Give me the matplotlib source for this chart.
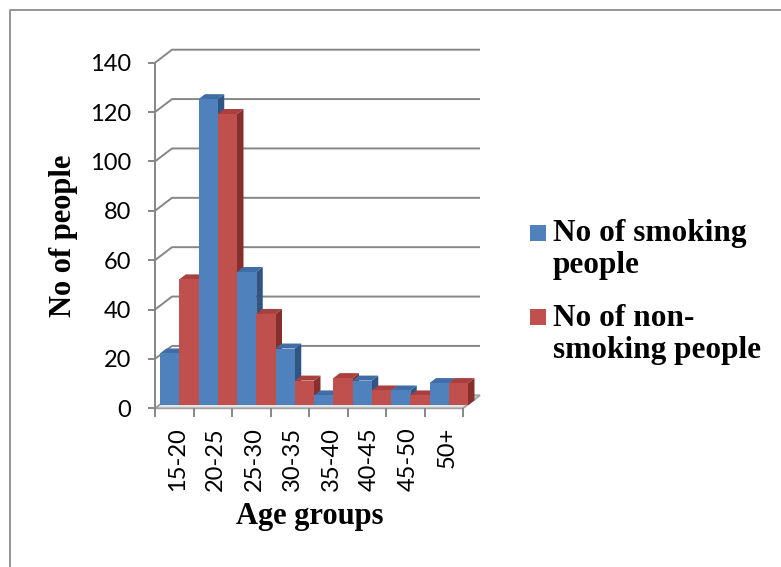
import matplotlib
matplotlib.use("Agg")
import matplotlib.pyplot as plt
from matplotlib.patches import Polygon, Rectangle
from matplotlib.lines import Line2D
import matplotlib.transforms as mtransforms

# ---- data ----
categories = ["15-20", "20-25", "25-30", "30-35", "35-40", "40-45", "45-50", "50+"]
smoking = [21, 124, 54, 23, 4, 10, 6, 9]
non_smoking = [51, 118, 37, 10, 11, 6, 4, 9]
series_names = ["No of smoking\npeople", "No of non-\nsmoking people"]
y_ticks = [0, 20, 40, 60, 80, 100, 120, 140]

W, H = 781, 567
fig = plt.figure(figsize=(W / 100, H / 100), dpi=100)
fig.patch.set_facecolor("white")

def fx(x):
    return x / W

def fy(y):
    return 1 - y / H

# plot area (front plane) in pixels
L, R, B, T = 155, 463, 408.3, 62.7
ax = fig.add_axes([fx(L), fy(B), (R - L) / W, (B - T) / H])
ax.set_xlim(0, len(categories))
ax.set_ylim(0, 140)
ax.patch.set_alpha(0)

ppx = (R - L) / len(categories)   # px per category
ppy = (B - T) / 140.0             # px per unit

# 3D offsets (px -> data)
wall_dx, wall_dy = 17 / ppx, 13 / ppy
shift_dx, shift_dy = 5 / ppx, 3 / ppy
depth_dx, depth_dy = 6.5 / ppx, 5 / ppy

grid_c = "#868686"

# floor
floor = Polygon([(0, 0), (8, 0), (8 + wall_dx, wall_dy), (wall_dx, wall_dy)],
                closed=True, facecolor="#e4e4e4", edgecolor="#a0a0a0", lw=1.3,
                zorder=1, clip_on=False)
ax.add_patch(floor)

# back wall gridlines
for v in y_ticks[1:]:
    ax.plot([0, wall_dx, 8 + wall_dx], [v, v + wall_dy, v + wall_dy],
            color=grid_c, lw=1.4, clip_on=False, zorder=0.5,
            solid_capstyle="butt")

# bars
bw = 0.5
colors = [("#4F81BD", "#3F6DA8", "#2F5584"), ("#C0504D", "#A8403D", "#86302E")]
order = []
for i in range(len(categories)):
    order.append((i + shift_dx, smoking[i], 0))
    order.append((i + bw + shift_dx, non_smoking[i], 1))

z = 2
for x0, v, s in order:
    front_c, top_c, side_c = colors[s]
    x1 = x0 + bw
    b = shift_dy
    t = shift_dy + v
    side = Polygon([(x1, b), (x1 + depth_dx, b + depth_dy),
                    (x1 + depth_dx, t + depth_dy), (x1, t)],
                   closed=True, facecolor=side_c, edgecolor="none",
                   zorder=z, clip_on=False)
    top = Polygon([(x0, t), (x1, t), (x1 + depth_dx, t + depth_dy),
                   (x0 + depth_dx, t + depth_dy)],
                  closed=True, facecolor=top_c, edgecolor="none",
                  zorder=z + 0.1, clip_on=False)
    ax.add_patch(side)
    ax.add_patch(top)
    ax.bar([x0], [v], width=bw, bottom=b, align="edge", color=front_c,
           edgecolor="none", zorder=z + 0.2, clip_on=False)
    z += 1

# spines / ticks
for sp in ["top", "right", "bottom"]:
    ax.spines[sp].set_visible(False)
ax.spines["left"].set_color(grid_c)
ax.spines["left"].set_linewidth(1.4)

tick_font = dict(family="Lato", size=17)
ax.set_yticks(y_ticks)
ax.set_yticklabels([str(v) for v in y_ticks], **tick_font)
ax.tick_params(axis="y", direction="out", length=5, width=1.4, color=grid_c,
               pad=12, labelcolor="black")

ax.set_xticks([i + 0.5 for i in range(len(categories))])
ax.set_xticklabels(categories, rotation=90, **tick_font)
ax.set_xticks(range(len(categories) + 1), minor=True)
ax.tick_params(axis="x", which="major", length=0, pad=13.5)
ax.tick_params(axis="x", which="minor", direction="out", length=6.5,
               width=1.4, color=grid_c)
off = mtransforms.ScaledTranslation(3 / 100, 0, fig.dpi_scale_trans)
for lab in ax.get_xticklabels():
    lab.set_transform(lab.get_transform() + off)

lab_font = dict(family="Liberation Serif", weight="bold", size=22)
fig.text(fx(64), fy(236), "No of people", rotation=90, ha="center",
         va="center", **lab_font)
fig.text(fx(310), fy(524), "Age groups", ha="center", va="baseline",
         **lab_font)

# legend
leg_font = dict(family="Liberation Serif", weight="bold", size=22.5)
sq = 16
for (y_sq, lines, base_y), (fc, _, _) in zip(
        [(225, series_names[0].split("\n"), 241),
         (309, series_names[1].split("\n"), 326)], colors):
    fig.patches.append(Rectangle((fx(530), fy(y_sq + sq)), sq / W, sq / H,
                                 transform=fig.transFigure, facecolor=fc,
                                 edgecolor="none"))
    for k, line in enumerate(lines):
        fig.text(fx(553), fy(base_y + 32 * k), line, ha="left",
                 va="baseline", **leg_font)

# chart border
fig.lines.append(Line2D([fx(10), fx(10), fx(781)], [fy(567), fy(9.5), fy(9.5)],
                        transform=fig.transFigure, color="#8c8c8c", lw=1.3))

fig.savefig("out.png", dpi=100)
